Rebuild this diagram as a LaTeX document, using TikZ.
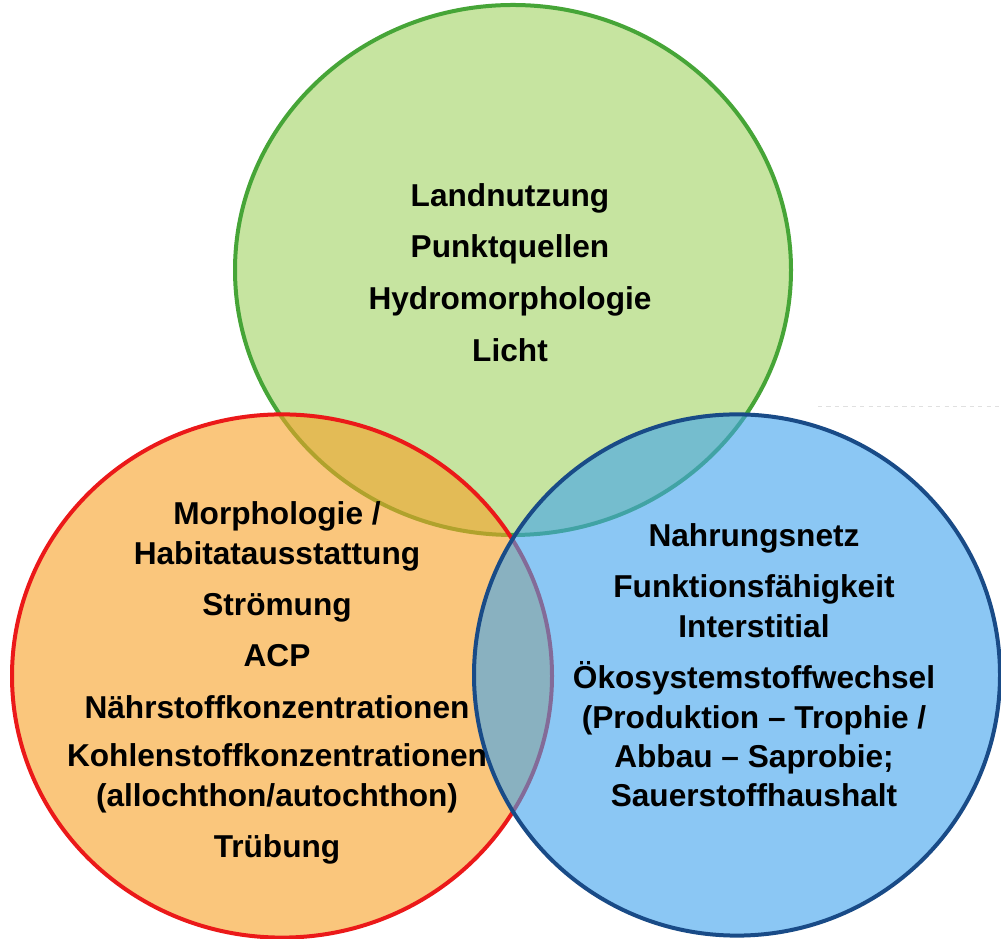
\documentclass[tikz,border=0pt]{standalone}
\usepackage{fontspec}
\setmainfont{Liberation Sans}[Ligatures=NoCommon]
\usetikzlibrary{shapes.geometric}

\definecolor{greenfill}{RGB}{160,210,97}
\definecolor{greenline}{RGB}{70,165,55}
\definecolor{redfill}{RGB}{247,160,38}
\definecolor{redline}{RGB}{235,25,25}
\definecolor{bluefill}{RGB}{63,163,238}
\definecolor{blueline}{RGB}{25,75,135}

\begin{document}
\begin{tikzpicture}[setnode/.style={ellipse, line width=1mm, fill opacity=0.6, draw opacity=1, inner sep=0pt},
                    itemnode/.style={align=center, font=\bfseries\fontsize{22.5}{28}\selectfont, inner sep=0pt}]
    \fill[white] (0,0) rectangle (25.025,23.475);
    \useasboundingbox (0,0) rectangle (25.025,23.475);
    % the three circles, green first, blue on top
    \node[setnode, draw=greenline, fill=greenfill, minimum width=13.9cm, minimum height=13.25cm] (green) at (12.825,16.725) {};
    \node[setnode, draw=redline, fill=redfill, minimum width=13.5cm, minimum height=13.08cm] (red) at (7.05,6.575) {};
    \node[setnode, draw=blueline, fill=bluefill, minimum width=13.15cm, minimum height=13.03cm] (blue) at (18.425,6.6) {};
    % faint line at the right
    \draw[black!12, dashed, line width=0.6pt] (20.45,13.325) -- (25.025,13.325);
    % texts
    \node[itemnode] (greentext) at ([xshift=-0.75mm,yshift=-0.6mm]green.center)
        {Landnutzung\\[8.8pt] Punktquellen\\[8.8pt] Hydromorphologie\\[8.8pt] Licht};
    \node[itemnode] (redtext) at ([xshift=-1.25mm,yshift=-1.75mm]red.center)
        {Morphologie /\\ Habitatausstattung\\[8.5pt] Strömung\\[8.5pt] ACP\\[8.5pt]
         Nährstoffkonzentrationen\\[6.5pt] Kohlenstoffkonzentrationen\\ (allochthon/autochthon)\\[8.5pt] Trübung};
    \node[itemnode] (bluetext) at ([xshift=4.25mm,yshift=2.4mm]blue.center)
        {Nahrungsnetz\\[8.5pt] Funktionsfähigkeit\\ Interstitial\\[8.5pt] Ökosystemstoffwechsel\\
         (Produktion – Trophie /\\ Abbau – Saprobie;\\ Sauerstoffhaushalt};
\end{tikzpicture}
\end{document}
